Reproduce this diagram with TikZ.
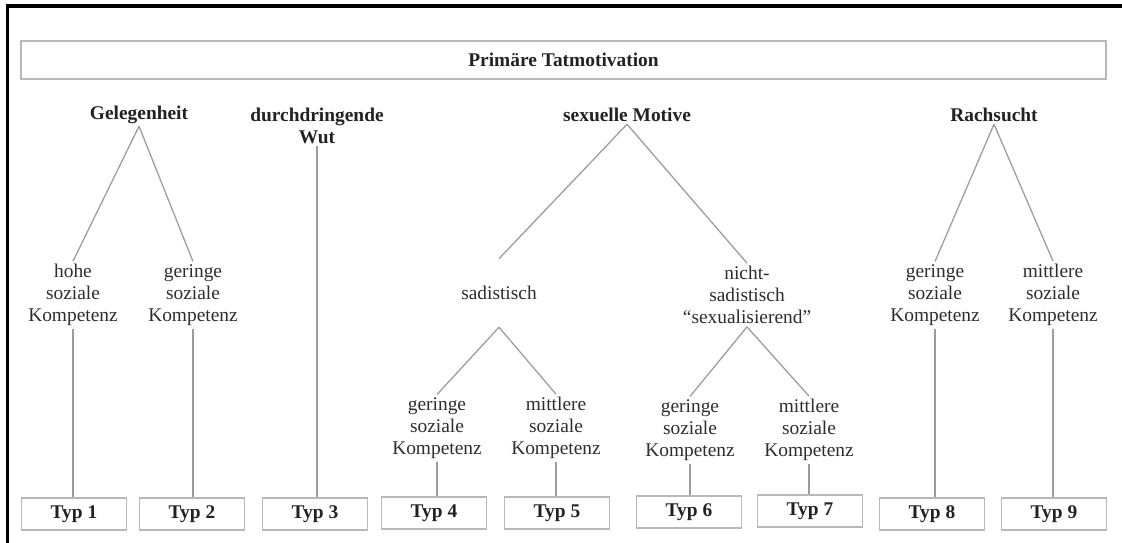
\documentclass[tikz,border=0pt]{standalone}
\usepackage{fontspec}
\setmainfont{Liberation Serif}
\usetikzlibrary{positioning}
\definecolor{linegray}{HTML}{9C9C9C}
\definecolor{boxgray}{HTML}{B8B8B8}
\definecolor{ink}{HTML}{222222}

\begin{document}
\begin{tikzpicture}[x=0.025cm,y=-0.025cm,
  hd/.style={font=\fontsize{13.8}{15.6}\selectfont\bfseries,text=ink,align=center,inner sep=1.5pt},
  lbl/.style={font=\fontsize{13.8}{15.6}\selectfont,text=ink!95,align=center,inner sep=2pt},
  typ/.style={draw=boxgray,line width=1pt,minimum width=2.63cm,minimum height=0.8cm,font=\fontsize{13.8}{15.6}\selectfont\bfseries,text=ink},
  ln/.style={draw=linegray,line width=0.9pt}]
\clip (0,0) rectangle (1122,543);
\draw[line width=2.4pt] (7.5,6) rectangle (1200,600);
\node[draw=boxgray,line width=1pt,minimum width=27.125cm,minimum height=0.95cm,font=\fontsize{13.8}{15.6}\selectfont\bfseries,text=ink] (title) at (563.5,60) {Primäre Tatmotivation};
% top level
\node[hd] (g) at (139,115) {Gelegenheit};
\node[hd] (w) at (317,126) {durchdringende\\Wut};
\node[hd] (s) at (627,115) {sexuelle Motive};
\node[hd] (r) at (994,115) {Rachsucht};
% middle level
\node[lbl] (g1) at (73,295) {hohe\\soziale\\Kompetenz};
\node[lbl] (g2) at (193,295) {geringe\\soziale\\Kompetenz};
\node[lbl,minimum height=1.7cm] (sa) at (499,293) {sadistisch};
\node[lbl] (ns) at (747,295) {nicht-\\sadistisch\\``sexualisierend''};
\node[lbl] (r1) at (935,295) {geringe\\soziale\\Kompetenz};
\node[lbl] (r2) at (1053,295) {mittlere\\soziale\\Kompetenz};
\node[lbl] (sa1) at (437,428) {geringe\\soziale\\Kompetenz};
\node[lbl] (sa2) at (556,428) {mittlere\\soziale\\Kompetenz};
\node[lbl] (ns1) at (690,430) {geringe\\soziale\\Kompetenz};
\node[lbl] (ns2) at (809,430) {mittlere\\soziale\\Kompetenz};
% types
\node[typ] (t1) at (74,514) {Typ 1};
\node[typ] (t2) at (192,514) {Typ 2};
\node[typ] (t3) at (315,514) {Typ 3};
\node[typ] (t4) at (434,513) {Typ 4};
\node[typ] (t5) at (557,513) {Typ 5};
\node[typ] (t6) at (689,512) {Typ 6};
\node[typ] (t7) at (810,511) {Typ 7};
\node[typ] (t8) at (932,514) {Typ 8};
\node[typ] (t9) at (1054,514) {Typ 9};
% branches
\draw[ln] (g.south) -- (g1.north); \draw[ln] (g.south) -- (g2.north);
\draw[ln] (s.south) -- (sa.north); \draw[ln] (s.south) -- (ns.north);
\draw[ln] (r.south) -- (r1.north); \draw[ln] (r.south) -- (r2.north);
\draw[ln] (sa.south) -- (sa1.north); \draw[ln] (sa.south) -- (sa2.north);
\draw[ln] (ns.south) -- (ns1.north); \draw[ln] (ns.south) -- (ns2.north);
% stems
\draw[ln] (g1.south) -- (g1.south |- t1.north);
\draw[ln] (g2.south) -- (g2.south |- t2.north);
\draw[ln] (w.south) -- (w.south |- t3.north);
\draw[ln] (sa1.south) -- (sa1.south |- t4.north);
\draw[ln] (sa2.south) -- (sa2.south |- t5.north);
\draw[ln] (ns1.south) -- (ns1.south |- t6.north);
\draw[ln] (ns2.south) -- (ns2.south |- t7.north);
\draw[ln] (r1.south) -- (r1.south |- t8.north);
\draw[ln] (r2.south) -- (r2.south |- t9.north);
\end{tikzpicture}
\end{document}
